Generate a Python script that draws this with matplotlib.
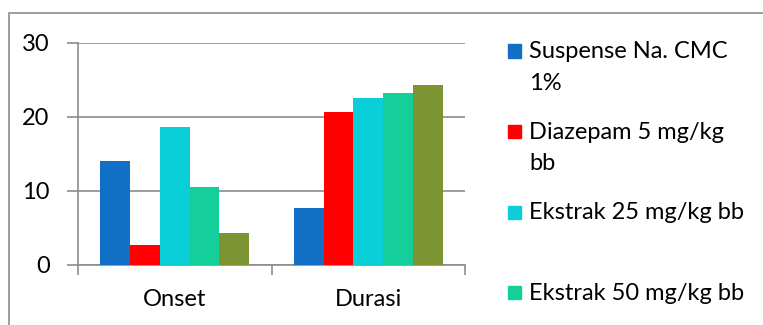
import matplotlib.pyplot as plt
import numpy as np
from matplotlib.patches import Rectangle

plt.rcParams['font.family'] = ['Lato', 'DejaVu Sans']

categories = ["Onset", "Durasi"]
series_names = ["Suspense Na. CMC\n1%", "Diazepam 5 mg/kg\nbb", "Ekstrak 25 mg/kg bb",
                "Ekstrak 50 mg/kg bb", "Ekstrak 100 mg/kg bb"]
suspense = [14.0, 7.6]
diazepam = [2.6, 20.6]
ekstrak_25 = [18.6, 22.5]
ekstrak_50 = [10.5, 23.2]
ekstrak_100 = [4.3, 24.3]
series_values = [suspense, diazepam, ekstrak_25, ekstrak_50, ekstrak_100]
colors = ['#116FC5', '#FF0000', '#0BCFD8', '#14CF9A', '#7C9332']
yticks = [0, 10, 20, 30]

W, H = 763, 325
FS = 17
fig = plt.figure(figsize=(W / 100, H / 100), dpi=100)
# axes box in pixels: left 78, right 465, top 42.5, bottom 264.5
ax = fig.add_axes([78 / W, (H - 264.5) / H, (465 - 78) / W, (264.5 - 42.5) / H])

grid_col = '#8C8C8C'
x = np.arange(len(categories))
bw = 0.1535
for i, (vals, col) in enumerate(zip(series_values, colors)):
    ax.bar(x + (i - 2) * bw, vals, width=bw, color=col, zorder=3)

ax.set_xlim(-0.5, 1.5)
ax.set_ylim(0, 30)
ax.set_yticks(yticks)
ax.set_yticklabels([str(t) for t in yticks], fontsize=FS, color='black')
ax.yaxis.grid(True, color=grid_col, linewidth=1.2)
ax.set_axisbelow(True)

# category ticks sit on the boundaries, labels centred in each group
ax.set_xticks([-0.5, 0.5, 1.5])
ax.set_xticklabels([])
ax.set_xticks(x, minor=True)
ax.set_xticklabels(categories, minor=True, fontsize=FS, color='black')
ax.tick_params(axis='x', which='minor', length=0, pad=18)
ax.tick_params(axis='x', which='major', length=7, color=grid_col, width=1.2)
ax.tick_params(axis='y', length=8, color=grid_col, width=1.2, pad=12.5)

for side in ['top', 'right']:
    ax.spines[side].set_visible(False)
for side in ['left', 'bottom']:
    ax.spines[side].set_color(grid_col)
    ax.spines[side].set_linewidth(1.2)

# legend drawn by hand, one entry per series; entries below the frame are clipped
sq = 13
for i, (name, col) in enumerate(zip(series_names, colors)):
    cy = 51 + i * 80.6
    if cy + sq / 2 > H:
        continue
    fig.add_artist(Rectangle((508 / W, (H - cy - sq / 2) / H), sq / W, sq / H,
                             transform=fig.transFigure, color=col))
    for k, line in enumerate(name.split("\n")):
        fig.text(529 / W, (H - (cy + 7.2 + k * 31.7)) / H, line, fontsize=FS,
                 va='baseline', ha='left', color='black')

# outer chart border
fig.add_artist(Rectangle((9 / W, -0.05), 1.1, (H - 13) / H + 0.05, transform=fig.transFigure,
                         fill=False, edgecolor='#8C8C8C', linewidth=1.2))

fig.savefig('out.png', dpi=100)
